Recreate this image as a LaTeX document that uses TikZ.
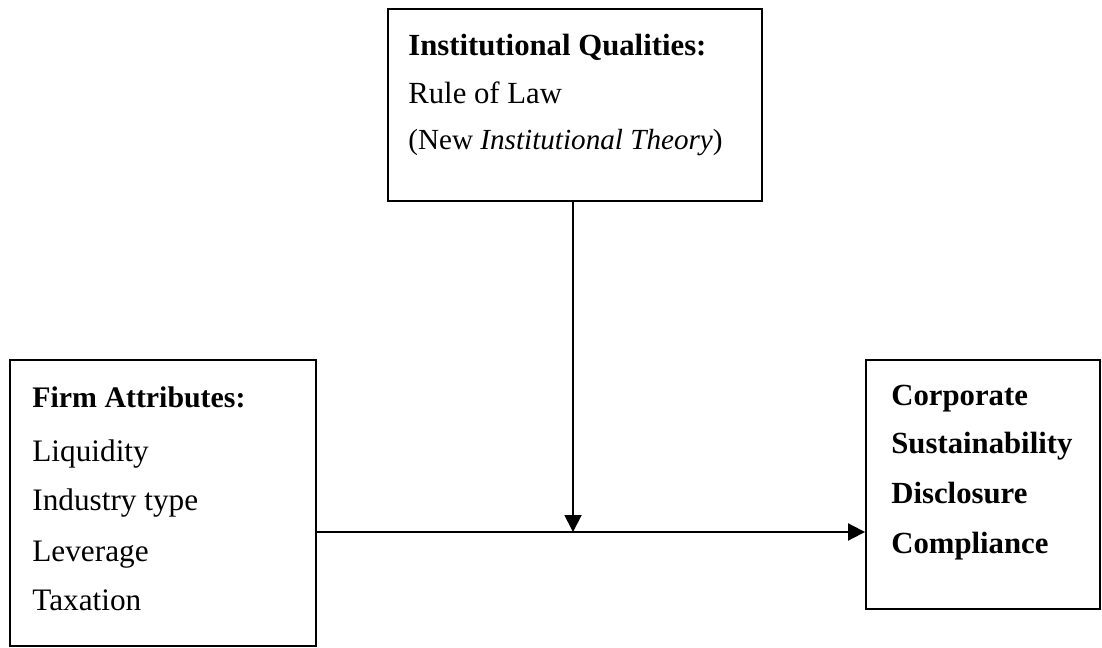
\documentclass[tikz,border=0pt]{standalone}
\usepackage{fontspec}
\setmainfont{Liberation Serif}
\usetikzlibrary{arrows.meta, calc}

\tikzset{
  box/.style={draw=black, line width=1.1pt, rectangle, inner sep=0pt},
  txt/.style={anchor=base west, inner sep=0pt, font=\fontsize{17.8}{21}\selectfont},
  arrow/.style={line width=1.1pt, -{Triangle[length=0.34cm, width=0.34cm]}}
}

\begin{document}
\begin{tikzpicture}[x=0.02cm, y=-0.02cm]
      \useasboundingbox (0,0) rectangle (1102,648);

      % boxes
      \node[box, minimum width=7.48cm, minimum height=3.84cm] (inst) at (575,105) {};
      \node[box, minimum width=6.12cm, minimum height=5.72cm] (firm) at (163,503) {};
      \node[box, minimum width=4.68cm, minimum height=4.98cm] (csd) at (983,484.5) {};

      \node[txt, font=\fontsize{17.5}{21}\selectfont] (instA) at (408,56) {\textbf{Institutional Qualities:}};
      \node[txt, font=\fontsize{17.5}{21}\selectfont] (instB) at (408,104) {Rule of Law};
      \node[txt, font=\fontsize{16.6}{20}\selectfont] (instC) at (408,150) {(New \textit{Institutional Theory})};

      \node[txt, font=\fontsize{17}{21}\selectfont] (firmA) at (32,408) {\textbf{Firm Attributes:}};
      \node[txt] (firmB) at (32,461) {Liquidity};
      \node[txt] (firmC) at (32,510) {Industry type};
      \node[txt] (firmD) at (32,561) {Leverage};
      \node[txt] (firmE) at (32,610) {Taxation};

      \node[txt, font=\fontsize{17.5}{21}\selectfont] (csdA) at (891,405) {\textbf{Corporate}};
      \node[txt, font=\fontsize{17.5}{21}\selectfont] (csdB) at (891,453) {\textbf{Sustainability}};
      \node[txt, font=\fontsize{17.5}{21}\selectfont] (csdC) at (891,503) {\textbf{Disclosure}};
      \node[txt, font=\fontsize{17.5}{21}\selectfont] (csdD) at (891,553) {\textbf{Compliance}};

      % arrows
      \coordinate (join) at (573,532);
      \draw[arrow] (inst.south -| join) -- (join);
      \draw[arrow] (firm.east |- join) -- (csd.west |- join);
    \end{tikzpicture}
\end{document}
